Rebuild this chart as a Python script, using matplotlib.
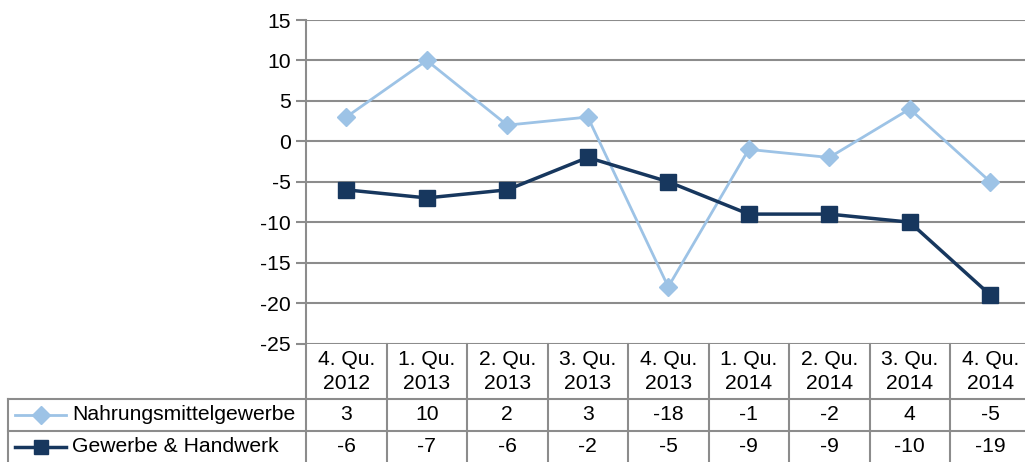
import matplotlib.pyplot as plt
import matplotlib.transforms as mtransforms
import numpy as np

plt.rcParams['font.family'] = ['Liberation Sans', 'DejaVu Sans']
plt.rcParams['axes.unicode_minus'] = False

# Daten
quartale = ['4. Qu.\n2012', '1. Qu.\n2013', '2. Qu.\n2013', '3. Qu.\n2013', '4. Qu.\n2013',
            '1. Qu.\n2014', '2. Qu.\n2014', '3. Qu.\n2014', '4. Qu.\n2014']
nahrung = [3, 10, 2, 3, -18, -1, -2, 4, -5]
gewerbe = [-6, -7, -6, -2, -5, -9, -9, -10, -19]
serien = ['Nahrungsmittelgewerbe', 'Gewerbe & Handwerk']

hell = '#9DC3E6'
dunkel = '#17375E'
grau = '#8C8C8C'
fs = 15.2

W, H = 1025, 462
fig = plt.figure(figsize=(W / 100, H / 100), dpi=100)
# Diagrammflaeche geht rechts ueber den Bildrand hinaus
left, right, top, bottom = 306, 1030.5, 20, 343.5
ax = fig.add_axes([left / W, 1 - bottom / H, (right - left) / W, (bottom - top) / H])

x = np.arange(len(quartale))
ax.plot(x, nahrung, color=hell, lw=2, marker='D', ms=9, mec=hell, mfc=hell, zorder=3)
ax.plot(x, gewerbe, color=dunkel, lw=2.5, marker='s', ms=11, mec=dunkel, mfc=dunkel, zorder=3)

ax.set_xlim(-0.5, len(quartale) - 0.5)
ax.set_ylim(-25, 15)
ax.set_yticks(np.arange(-25, 16, 5))
ax.yaxis.grid(True, color=grau, lw=1.5)
ax.set_axisbelow(True)
for s in ['top', 'right', 'bottom']:
    ax.spines[s].set_visible(False)
ax.spines['left'].set_color(grau)
ax.spines['left'].set_linewidth(1.5)
ax.tick_params(axis='y', colors=grau, length=7, width=1.5, labelsize=fs, labelcolor='black', pad=4)
ax.tick_params(axis='x', bottom=False, labelbottom=False)

# Datentabelle unter dem Diagramm
tr = mtransforms.blended_transform_factory(ax.transData, fig.transFigure)
def fy(px):
    return 1 - px / H

kw = dict(color=grau, lw=1.5, transform=tr, clip_on=False)
row1, row2, row3 = 399, 431, 463
x_links = -0.5 - (left - 8) / ((right - left) / len(quartale))
for b in np.arange(-0.5, len(quartale), 1):
    ax.plot([b, b], [fy(bottom), fy(row3)], **kw)
for r in [row1, row2]:
    ax.plot([x_links, len(quartale) - 0.5], [fy(r), fy(r)], **kw)
ax.plot([x_links, x_links], [fy(row1), fy(row3)], **kw)

for i, q in enumerate(quartale):
    ax.text(i, fy(371.5), q, transform=tr, ha='center', va='center',
            fontsize=fs, linespacing=1.3)
    ax.text(i, fy((row1 + row2) / 2), str(nahrung[i]), transform=tr, ha='center', va='center', fontsize=fs)
    ax.text(i, fy((row2 + row3) / 2), str(gewerbe[i]), transform=tr, ha='center', va='center', fontsize=fs)

# Legendenschluessel in der Tabelle
ftr = fig.transFigure
for name, farbe, m, ms, lw, yy in [(serien[0], hell, 'D', 9, 2, (row1 + row2) / 2),
                                   (serien[1], dunkel, 's', 10, 2.5, (row2 + row3) / 2)]:
    fig.add_artist(plt.Line2D([15 / W, 66 / W], [fy(yy), fy(yy)], color=farbe, lw=lw, transform=ftr))
    fig.add_artist(plt.Line2D([40.5 / W], [fy(yy)], marker=m, ms=ms, color=farbe, transform=ftr))
    fig.text(72 / W, fy(yy), name, ha='left', va='center', fontsize=fs)

fig.savefig('out.png', dpi=100)
